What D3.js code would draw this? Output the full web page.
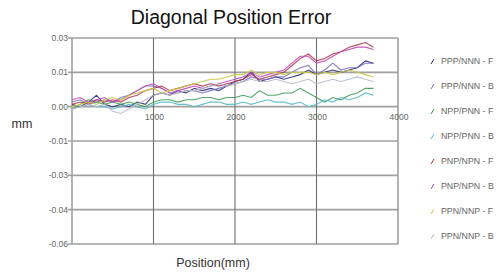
<!DOCTYPE html>
<html lang="en">
<head>
    <title>Diagonal Position Error</title>
    <style>
        body { margin: 0; padding: 0; background: #fff; font-family: Arial, "Liberation Sans", sans-serif; }
        svg text { font-family: Arial, "Liberation Sans", sans-serif; }
    </style>
    <script src="https://d3js.org/d3.v7.min.js"></script>
</head>
<body>
<div id="chart"></div>
<script>
// positions along the diagonal (mm)
const positions = [0, 100, 200, 300, 400, 500, 600, 700, 800, 900, 1000, 1100, 1200, 1300, 1400, 1500, 1600, 1700, 1800,
                   1900, 2000, 2100, 2200, 2300, 2400, 2500, 2600, 2700, 2800, 2900, 3000, 3100, 3200, 3300, 3400, 3500, 3600, 3700];

const seriesNames = ['PPP/NNN - F', 'PPP/NNN - B', 'NPP/PNN - F', 'NPP/PNN - B',
                     'PNP/NPN - F', 'PNP/NPN - B', 'PPN/NNP - F', 'PPN/NNP - B'];
const seriesColors = ['#2e2f6e', '#7a70c4', '#3f9d55', '#55b9c9', '#b0384f', '#c048b4', '#c9c743', '#b9b9c9'];

// error values (mm)
const pppF = [0.001, 0.000, 0.002, 0.005, 0.001, 0.000, 0.001, 0.000, 0.002, 0.001, 0.005, 0.006, 0.005, 0.007, 0.006, 0.008, 0.007, 0.008, 0.007,
              0.009, 0.011, 0.012, 0.015, 0.011, 0.012, 0.013, 0.012, 0.013, 0.014, 0.016, 0.014, 0.015, 0.016, 0.015, 0.016, 0.017, 0.020, 0.019];
const pppB = [0.002, 0.003, 0.001, 0.002, 0.003, 0.002, 0.004, 0.005, 0.007, 0.009, 0.009, 0.008, 0.006, 0.006, 0.007, 0.007, 0.006, 0.007, 0.008,
              0.009, 0.010, 0.011, 0.013, 0.012, 0.012, 0.013, 0.013, 0.015, 0.017, 0.018, 0.014, 0.016, 0.019, 0.016, 0.017, 0.017, 0.019, 0.019];
const nppF = [-0.001, 0.001, 0.003, 0.002, 0.001, 0.002, 0.001, 0.002, 0.001, 0.000, 0.002, 0.003, 0.003, 0.002, 0.003, 0.003, 0.004, 0.004, 0.003,
              0.004, 0.004, 0.005, 0.004, 0.007, 0.005, 0.005, 0.006, 0.006, 0.008, 0.006, 0.004, 0.002, 0.004, 0.003, 0.005, 0.006, 0.008, 0.008];
const nppB = [-0.001, 0.000, 0.001, 0.000, 0.000, -0.001, 0.000, 0.001, 0.000, -0.001, 0.001, 0.002, 0.002, 0.001, 0.001, 0.000, 0.001, 0.002, 0.002,
              0.001, 0.001, 0.002, 0.001, 0.002, 0.003, 0.002, 0.002, 0.001, 0.002, 0.000, 0.001, 0.003, 0.002, 0.004, 0.003, 0.004, 0.006, 0.005];
const pnpF = [0.001, 0.002, 0.001, 0.003, 0.002, 0.003, 0.002, 0.004, 0.005, 0.007, 0.008, 0.009, 0.007, 0.008, 0.009, 0.010, 0.009, 0.010, 0.009,
              0.010, 0.011, 0.012, 0.014, 0.012, 0.013, 0.014, 0.015, 0.018, 0.021, 0.023, 0.020, 0.021, 0.023, 0.024, 0.026, 0.027, 0.028, 0.026];
const pnpB = [0.003, 0.004, 0.002, 0.003, 0.004, 0.002, 0.003, 0.005, 0.007, 0.009, 0.010, 0.008, 0.006, 0.007, 0.008, 0.009, 0.008, 0.009, 0.010,
              0.011, 0.012, 0.013, 0.015, 0.013, 0.014, 0.015, 0.016, 0.019, 0.022, 0.022, 0.019, 0.020, 0.022, 0.024, 0.025, 0.026, 0.026, 0.025];
const ppnF = [0.000, 0.001, 0.002, 0.001, 0.003, 0.004, 0.003, 0.005, 0.006, 0.007, 0.008, 0.006, 0.007, 0.008, 0.009, 0.010, 0.011, 0.012, 0.012,
              0.013, 0.014, 0.014, 0.016, 0.014, 0.015, 0.015, 0.014, 0.015, 0.015, 0.015, 0.014, 0.015, 0.014, 0.015, 0.016, 0.015, 0.014, 0.013];
const ppnB = [-0.001, 0.000, 0.001, 0.000, 0.001, -0.002, -0.003, -0.001, 0.001, 0.003, 0.005, 0.006, 0.005, 0.006, 0.007, 0.007, 0.008, 0.009, 0.010,
              0.009, 0.010, 0.011, 0.012, 0.011, 0.011, 0.012, 0.011, 0.010, 0.011, 0.012, 0.010, 0.011, 0.012, 0.011, 0.012, 0.013, 0.012, 0.011];
const seriesValues = [pppF, pppB, nppF, nppB, pnpF, pnpB, ppnF, ppnB];

const xTicks = [0, 1000, 2000, 3000, 4000];
const xTickLabels = ['', '1000', '2000', '3000', '4000'];
const yTicks = [0.03, 0.015, 0, -0.015, -0.03, -0.045, -0.06];
const yTickLabels = ['0.03', '0.01', '0.00', '-0.01', '-0.03', '-0.04', '-0.06'];

const width = 499, height = 275;
const plot = {left: 72, right: 398, top: 38, bottom: 244};

const svg = d3.select('#chart').append('svg')
    .attr('width', width)
    .attr('height', height);

const x = d3.scaleLinear().domain([0, 4000]).range([plot.left, plot.right]);
const y = d3.scaleLinear().domain([-0.06, 0.03]).range([plot.bottom, plot.top]);

// horizontal grid lines
svg.append('g')
    .selectAll('line')
    .data(yTicks)
    .enter().append('line')
    .attr('x1', plot.left - 4).attr('x2', plot.right)
    .attr('y1', d => y(d)).attr('y2', d => y(d))
    .style('stroke', '#a0a0a0')
    .style('stroke-width', 1.6);

// vertical grid lines
svg.append('g')
    .selectAll('line')
    .data(xTicks)
    .enter().append('line')
    .attr('x1', d => x(d)).attr('x2', d => x(d))
    .attr('y1', plot.top).attr('y2', plot.bottom)
    .style('stroke', d => (d === 0 || d === 4000) ? '#a0a0a0' : '#707070')
    .style('stroke-width', d => (d === 0 || d === 4000) ? 1.6 : 1.1);

// y tick labels
svg.append('g')
    .selectAll('text')
    .data(yTicks)
    .enter().append('text')
    .attr('x', plot.left - 4)
    .attr('y', d => y(d) + 3)
    .attr('text-anchor', 'end')
    .style('font-size', '8.5px')
    .style('fill', '#666')
    .text((d, i) => yTickLabels[i]);

// x tick labels, drawn along the zero line
svg.append('g')
    .selectAll('text')
    .data(xTicks)
    .enter().append('text')
    .attr('x', d => x(d) + 1)
    .attr('y', y(0) + 13)
    .attr('text-anchor', 'middle')
    .style('font-size', '8.5px')
    .style('fill', '#666')
    .text((d, i) => xTickLabels[i]);

// series
const line = d3.line()
    .x((d, i) => x(positions[i]))
    .y(d => y(d));

svg.append('g')
    .selectAll('path')
    .data(seriesValues)
    .enter().append('path')
    .attr('d', d => line(d))
    .style('fill', 'none')
    .style('stroke', (d, i) => seriesColors[i])
    .style('stroke-width', 1.1)
    .style('opacity', 0.9);

// legend
const legend = svg.append('g')
    .selectAll('g')
    .data(seriesNames)
    .enter().append('g')
    .attr('transform', (d, i) => `translate(431,${61 + i * 25})`);

legend.append('line')
    .attr('x1', 0).attr('y1', 3)
    .attr('x2', 3).attr('y2', -2)
    .style('stroke', (d, i) => seriesColors[i])
    .style('stroke-width', 1);

legend.append('text')
    .attr('x', 10)
    .attr('y', 3)
    .style('font-size', '8.8px')
    .style('fill', '#666')
    .text(d => d);

// titles
svg.append('text')
    .attr('x', 231)
    .attr('y', 24)
    .attr('text-anchor', 'middle')
    .style('font-size', '19.5px')
    .style('fill', '#111')
    .text('Diagonal Position Error');

svg.append('text')
    .attr('x', 213)
    .attr('y', 267)
    .attr('text-anchor', 'middle')
    .style('font-size', '12.5px')
    .style('fill', '#333')
    .text('Position(mm)');

svg.append('text')
    .attr('x', 22)
    .attr('y', 128)
    .attr('text-anchor', 'middle')
    .style('font-size', '12.5px')
    .style('fill', '#333')
    .text('mm');
</script>
</body>
</html>
